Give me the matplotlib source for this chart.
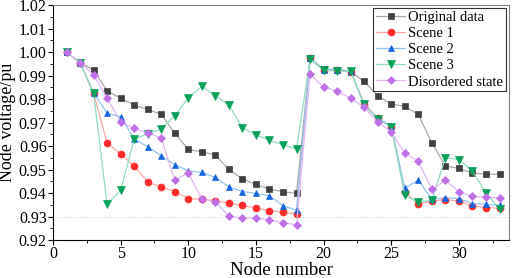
import matplotlib
matplotlib.use("Agg")
import matplotlib.pyplot as plt
import numpy as np

plt.rcParams['font.family'] = ['Liberation Serif', 'DejaVu Serif']

nodes = np.arange(1, 34)

original = [1.000, 0.9955, 0.9923, 0.9835, 0.9804, 0.9774, 0.9756, 0.9735, 0.9655, 0.9586,
            0.9576, 0.9562, 0.9501, 0.9461, 0.9437, 0.9417, 0.9406, 0.9399, 0.9974, 0.9928,
            0.9925, 0.9917, 0.9875, 0.9814, 0.9779, 0.9769, 0.9735, 0.9613, 0.9516, 0.9505,
            0.9485, 0.9481, 0.9480]
scene1 = [1.000, 0.9955, 0.9825, 0.9614, 0.9566, 0.9516, 0.9447, 0.9426, 0.9407, 0.9377,
          0.9374, 0.9368, 0.9357, 0.9348, 0.9336, 0.9326, 0.9318, 0.9312, 0.9974, 0.9923,
          0.9922, 0.9915, 0.9781, 0.9719, 0.9682, 0.9406, 0.9353, 0.9366, 0.9373, 0.9366,
          0.9346, 0.9339, 0.9336]
scene2 = [1.000, 0.9955, 0.9825, 0.9740, 0.9725, 0.9630, 0.9597, 0.9559, 0.9521, 0.9495,
          0.9488, 0.9467, 0.9427, 0.9407, 0.9399, 0.9389, 0.9346, 0.9328, 0.9974, 0.9925,
          0.9925, 0.9920, 0.9774, 0.9719, 0.9685, 0.9421, 0.9455, 0.9374, 0.9380, 0.9377,
          0.9356, 0.9352, 0.9348]
scene3 = [1.000, 0.9955, 0.9825, 0.9352, 0.9412, 0.9630, 0.9653, 0.9672, 0.9730, 0.9804,
          0.9855, 0.9815, 0.9774, 0.9679, 0.9647, 0.9626, 0.9605, 0.9588, 0.9970, 0.9922,
          0.9920, 0.9918, 0.9777, 0.9715, 0.9680, 0.9391, 0.9362, 0.9370, 0.9551, 0.9543,
          0.9494, 0.9402, 0.9331]
disordered = [1.000, 0.9955, 0.9903, 0.9804, 0.9703, 0.9675, 0.9655, 0.9635, 0.9455, 0.9486,
              0.9376, 0.9362, 0.9303, 0.9294, 0.9294, 0.9285, 0.9275, 0.9265, 0.9905, 0.9852,
              0.9833, 0.9804, 0.9765, 0.9703, 0.9660, 0.9570, 0.9535, 0.9416, 0.9455, 0.9406,
              0.9386, 0.9382, 0.9381]

labels = ['Original data', 'Scene 1', 'Scene 2', 'Scene 3', 'Disordered state']
series = [original, scene1, scene2, scene3, disordered]
markers = ['s', 'o', '^', 'v', 'D']
mcolors = ['#404040', '#ff2a2a', '#1565e0', '#0aa05a', '#c070e8']
lcolors = ['#a8a8a8', '#ffa8a8', '#90c4f0', '#90dcc0', '#e0b8f4']
msizes = [4.5, 5, 5, 5.5, 4]

fig = plt.figure(figsize=(5.12, 2.78), dpi=100)
ax = fig.add_axes([0.1035, 0.136, 0.8906, 0.846])

ax.axhline(0.93, color='#c8c8c8', lw=0.6, ls=':', zorder=0)

for y, lab, m, mc, lc, ms in zip(series, labels, markers, mcolors, lcolors, msizes):
    ax.plot(nodes, y, color=lc, lw=0.9, marker=m, ms=ms, mfc=mc, mec=mc,
            mew=0.5, label=lab)

ax.set_xlim(0, 33.7)
ax.set_ylim(0.92, 1.02)
ax.set_xticks([0, 5, 10, 15, 20, 25, 30])
ax.set_xticks(np.arange(2.5, 33.7, 5), minor=True)
ax.set_yticks(np.arange(0.92, 1.0201, 0.01))
ax.set_yticks(np.arange(0.925, 1.02, 0.01), minor=True)
ax.set_yticklabels([f'{v:.2f}' for v in np.arange(0.92, 1.0201, 0.01)])
ax.tick_params(axis='both', which='major', labelsize=11.5, length=3.5, width=0.8,
               direction='out', pad=1)
ax.tick_params(axis='both', which='minor', length=2, width=0.6, direction='out')

for s in ['top', 'right']:
    ax.spines[s].set_color('#808080')
    ax.spines[s].set_linewidth(0.8)
for s in ['left', 'bottom']:
    ax.spines[s].set_linewidth(0.8)

ax.set_xlabel('Node number', fontsize=13.5, labelpad=0)
ax.set_ylabel('Node voltage/pu', fontsize=13, labelpad=2)

leg = ax.legend(loc='upper right', fontsize=10.5, frameon=True, fancybox=False,
                edgecolor='black', borderaxespad=0.2, handlelength=2.0,
                handletextpad=0.2, labelspacing=0.2, borderpad=0.2)
leg.get_frame().set_linewidth(0.8)

fig.savefig('out.png', dpi=100)
